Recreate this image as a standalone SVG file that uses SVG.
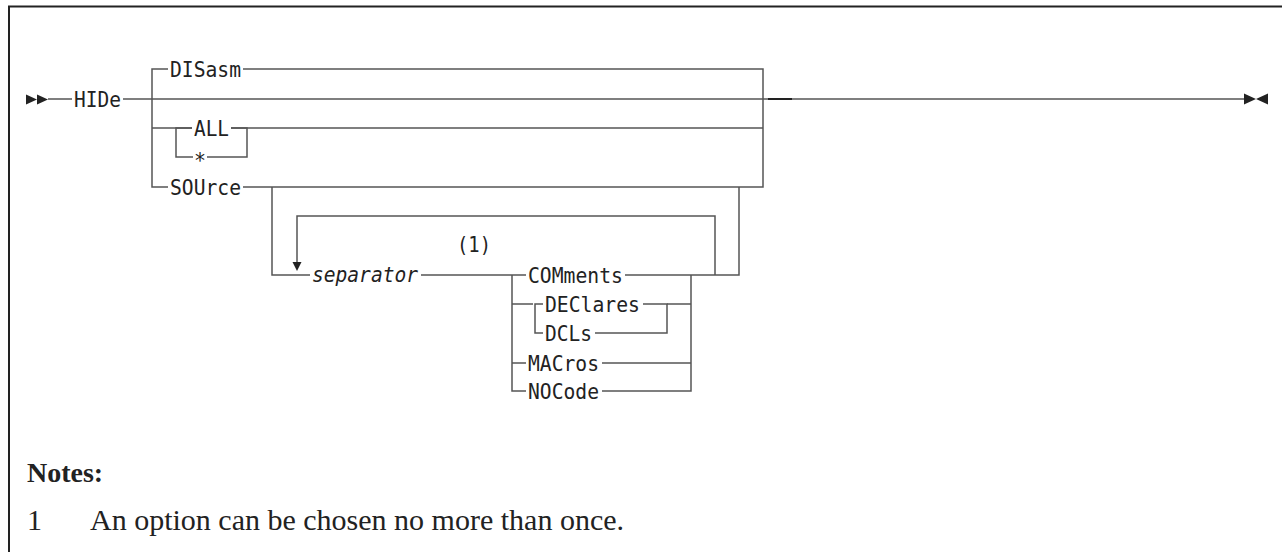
<svg xmlns="http://www.w3.org/2000/svg" width="1282" height="552" viewBox="0 0 1282 552">
<style>
.c{fill:none;stroke:#555;stroke-width:1.5}
.t{font-family:"DejaVu Sans Mono","Liberation Mono",monospace;font-size:21.5px;fill:#222}
.i{font-style:italic}
.n{font-family:"Liberation Serif","Times New Roman",serif;fill:#222}
.a{fill:#222}
</style>
<rect width="1282" height="552" fill="#fff"/>
<g id="frame"><path d="M9,552V6.5H1282" fill="none" stroke="#222" stroke-width="2"/></g>
<g id="connectors">
<path class="c" d="M48,99H72M123,99H1244"/>
<path d="M768,99H792" stroke="#222" stroke-width="2"/>
<path class="c" d="M168,69H152V187H168M243,69H763V187H243"/>
<path class="c" d="M152,128H192M231,128H763"/>
<path class="c" d="M192,128H176V157H193M207,157H247V128H231"/>
<path class="c" d="M272,187V275H310M421,275H526M625,275H739V187"/>
<path class="c" d="M297,262V216H715V275"/>
<path class="c" d="M512,275V391H526M602,391H691V275"/>
<path class="c" d="M512,304H533M667,304H691M512,363H526M602,363H691"/>
<path class="c" d="M543,304H535V333H543M643,304H667V333H595"/>
<polygon class="a" points="292.5,262 301.5,262 297,271"/>
<polygon class="a" points="26,94.5 37,99.5 26,104.5"/>
<polygon class="a" points="37,94.5 48,99.5 37,104.5"/>
<polygon class="a" points="1244,93.5 1256,99 1244,104.5"/>
<polygon class="a" points="1268,93.5 1256,99 1268,104.5"/>
</g>
<g id="node-hide"><text class="t" x="74" y="106.5" textLength="47" lengthAdjust="spacingAndGlyphs">HIDe</text></g>
<g id="node-disasm"><text class="t" x="170" y="76.5" textLength="71" lengthAdjust="spacingAndGlyphs">DISasm</text></g>
<g id="node-all"><text class="t" x="194" y="135.5" textLength="35" lengthAdjust="spacingAndGlyphs">ALL</text></g>
<g id="node-star"><text class="t" x="194" y="168" textLength="12" lengthAdjust="spacingAndGlyphs">*</text></g>
<g id="node-source"><text class="t" x="170" y="194.5" textLength="71" lengthAdjust="spacingAndGlyphs">SOUrce</text></g>
<g id="node-note-ref"><text class="t" x="457" y="252" textLength="34" lengthAdjust="spacingAndGlyphs">(1)</text></g>
<g id="node-separator"><text class="t i" x="312" y="282" textLength="106" lengthAdjust="spacingAndGlyphs">separator</text></g>
<g id="node-comments"><text class="t" x="528" y="282.5" textLength="95" lengthAdjust="spacingAndGlyphs">COMments</text></g>
<g id="node-declares"><text class="t" x="545" y="311.5" textLength="95" lengthAdjust="spacingAndGlyphs">DEClares</text></g>
<g id="node-dcls"><text class="t" x="545" y="340.5" textLength="47" lengthAdjust="spacingAndGlyphs">DCLs</text></g>
<g id="node-macros"><text class="t" x="528" y="370.5" textLength="71" lengthAdjust="spacingAndGlyphs">MACros</text></g>
<g id="node-nocode"><text class="t" x="528" y="398.5" textLength="71" lengthAdjust="spacingAndGlyphs">NOCode</text></g>
<g id="notes">
<text class="n" x="27" y="482" font-size="28" font-weight="bold">Notes:</text>
<text class="n" x="27" y="530" font-size="30">1</text>
<text class="n" x="90" y="530" font-size="30">An option can be chosen no more than once.</text>
</g>
</svg>
